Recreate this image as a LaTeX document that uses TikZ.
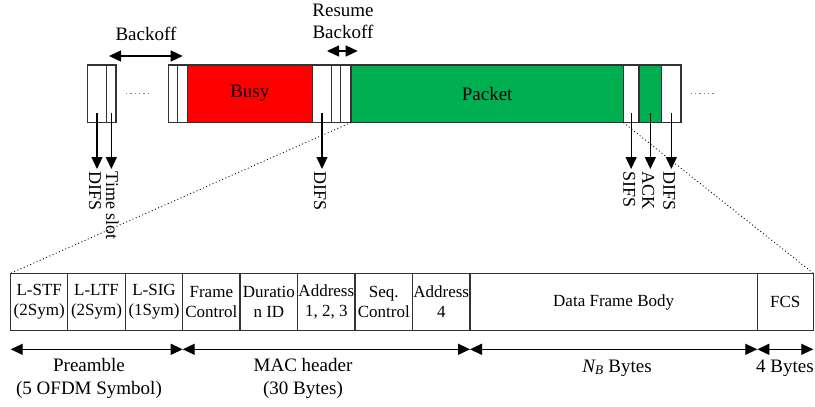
\documentclass[tikz,border=0pt]{standalone}
\usepackage{fontspec}
\setmainfont{Liberation Serif}
\usetikzlibrary{arrows.meta,calc}
\definecolor{pktgreen}{HTML}{00B050}
\definecolor{busyred}{HTML}{FF0000}
\begin{document}
\begin{tikzpicture}[x=1pt,y=-1pt,
  tbox/.style={draw=black!80, line width=1.2pt, inner sep=0pt, outer sep=0pt,
    minimum height=57.5pt, anchor=north west, font=\fontsize{19}{22}\selectfont},
  cell/.style={draw=black!80, line width=1.2pt, inner sep=0pt, outer sep=0pt,
    minimum height=57.4pt, anchor=north west, align=center,
    font=\fontsize{17}{20}\selectfont},
  lab/.style={inner sep=0pt, font=\fontsize{19}{23}\selectfont},
  vlab/.style={rotate=-90, anchor=west, inner sep=2.5pt, font=\fontsize{18}{20}\selectfont},
  darr/.style={line width=1.3pt, -{Triangle[length=12pt,width=11pt]}},
  harr/.style={line width=1.3pt, {Triangle[length=12pt,width=11pt]}-{Triangle[length=12pt,width=11pt]}},
  dotsline/.style={draw=black!50, line width=1.3pt, dash pattern=on 1.3pt off 3pt},
  zoomline/.style={draw=black, line width=0.9pt, dash pattern=on 0.9pt off 2.6pt}]
\useasboundingbox (0,0) rectangle (815,407);

% ---- top timeline ----
\node[tbox, minimum width=19.4pt] (b1) at (87.3,65) {};
\node[tbox, minimum width=9.3pt] (b2) at (106.7,65) {};
\node[tbox, minimum width=8.6pt] (b3) at (168.7,65) {};
\node[tbox, minimum width=10pt] (b4) at (177.3,65) {};
\node[tbox, minimum width=125pt, fill=busyred] (busy) at (187.3,65) {Busy};
\node[tbox, minimum width=19.4pt] (d1) at (312.3,65) {};
\node[tbox, minimum width=9pt] (s1) at (331.7,65) {};
\node[tbox, minimum width=10.3pt] (s2) at (340.7,65) {};
\node[tbox, minimum width=272.3pt, fill=pktgreen] (packet) at (351,65) {Packet};
\node[tbox, minimum width=15.7pt] (sifs) at (623.3,65) {};
\node[tbox, minimum width=22.7pt, fill=pktgreen] (ack) at (639,65) {};
\node[tbox, minimum width=19.3pt] (d2) at (661.7,65) {};

\draw[dotsline] ($(b2.east)+(10,0)$) -- ($(b3.west)+(-17.7,0)$);
\draw[dotsline] ($(d2.east)+(9.7,0)$) -- ($(d2.east)+(35,0)$);

% top labels and arrows
\node[lab] (bo) at (146,34) {Backoff};
\coordinate (bo1) at ($(b2.north west)+(2.3,-9)$);
\coordinate (bo2) at ($(b4.north)+(0.4,-9)$);
\draw[harr] (bo1) -- (bo2);

\node[lab, align=center, font=\fontsize{19}{22}\selectfont] (rb) at (343,21) {Resume\\Backoff};
\coordinate (rb1) at ($(d1.north east)+(-4.7,-14)$);
\coordinate (rb2) at ($(s2.north east)+(6.7,-14)$);
\draw[harr] (rb1) -- (rb2);

% vertical labels
\node[vlab] (l1) at ($(b1.south)+(-2,46.5)$) {DIFS};
\node[vlab] (l2) at ($(b2.south)+(1,46.5)$) {Time slot};
\node[vlab] (l3) at ($(d1.south)+(-2,46.5)$) {DIFS};
\node[vlab] (l4) at ($(sifs.south)+(-2,46.5)$) {SIFS};
\node[vlab] (l5) at ($(ack.south)+(-2,46.5)$) {ACK};
\node[vlab] (l6) at ($(d2.south)+(-2,46.5)$) {DIFS};

\draw[darr] ($(b1.south)+(0,-9.5)$) -- (b1.south |- l1.west);
\draw[darr] ($(b2.south)+(0,-9.5)$) -- (b2.south |- l2.west);
\draw[darr] ($(d1.south)+(0,-9.5)$) -- (d1.south |- l3.west);
\draw[darr] ($(sifs.south)+(0,-9.5)$) -- (sifs.south |- l4.west);
\draw[darr] ($(ack.south)+(0,-9.5)$) -- (ack.south |- l5.west);
\draw[darr] ($(d2.south)+(0,-9.5)$) -- (d2.south |- l6.west);

% ---- frame format ----
\node[cell, minimum width=57pt] (c1) at (10.7,273.3) {L-STF\\(2Sym)};
\node[cell, minimum width=57.6pt] (c2) at (67.7,273.3) {L-LTF\\(2Sym)};
\node[cell, minimum width=57.4pt] (c3) at (125.3,273.3) {L-SIG\\(1Sym)};
\node[cell, minimum width=57.3pt] (c4) at (182.7,273.3) {Frame\\Control};
\node[cell, minimum width=57.7pt] (c5) at (240,273.3) {Duratio\\n ID};
\node[cell, minimum width=57.3pt] (c6) at (297.7,273.3) {Address\\1, 2, 3};
\node[cell, minimum width=57.5pt] (c7) at (355,273.3) {Seq.\\Control};
\node[cell, minimum width=57.5pt] (c8) at (412.5,273.3) {Address\\4};
\node[cell, minimum width=287.3pt] (c9) at (470,273.3) {Data Frame Body};
\node[cell, minimum width=56pt] (c10) at (757.3,273.3) {FCS};

\draw[zoomline] (packet.south west) -- (c1.north west);
\draw[zoomline] (packet.south east) -- (c10.north east);

% bottom arrows
\coordinate (p0) at ($(c1.south west)+(0,18.6)$);
\coordinate (p1) at ($(c4.south west)+(0,18.6)$);
\coordinate (p2) at ($(c9.south west)+(0,18.6)$);
\coordinate (p3) at ($(c10.south west)+(0,18.6)$);
\coordinate (p4) at ($(c10.south east)+(0,18.6)$);
\draw[harr] (p0) -- (p1);
\draw[harr] (p1) -- (p2);
\draw[harr] (p2) -- (p3);
\draw[harr] (p3) -- (p4);

\node[lab, align=center] (pre) at (89,378) {Preamble\\(5 OFDM Symbol)};
\node[lab, align=center] (mac) at (303,378) {MAC header\\(30 Bytes)};
\node[lab] (nb) at (617,368) {{\itshape N\textsubscript{B}} Bytes};
\node[lab, anchor=west] (fb) at (756,368) {4 Bytes};
\end{tikzpicture}
\end{document}
